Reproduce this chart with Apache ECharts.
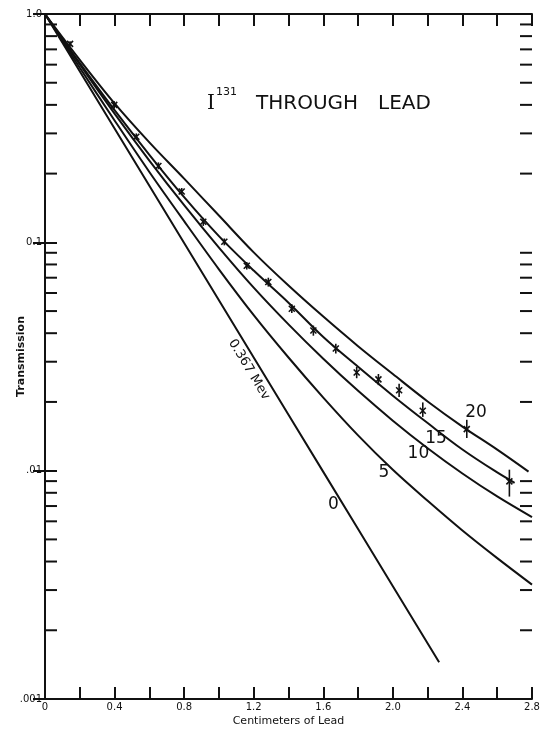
<!DOCTYPE html>
<html>
<head>
<meta charset="utf-8">
<script src="https://cdn.jsdelivr.net/npm/echarts@6/dist/echarts.min.js"></script>
<style>
  html, body { margin: 0; padding: 0; background: #fff; }
  #chart { width: 544px; height: 732px; }
</style>
</head>
<body>
<div id="chart"></div>
<script>
// Lead thickness (cm) at which the calculated curves are tabulated
const thickness = [0, 0.2, 0.4, 0.6, 0.8, 1.0, 1.2, 1.4, 1.6, 1.8, 2.0, 2.2, 2.4, 2.6, 2.8];

// Calculated transmission curves (labelled 5, 10, 15, 20)
const curve5  = [1, 0.5813, 0.3418, 0.2033, 0.1238, 0.0762, 0.0480, 0.0313, 0.0209, 0.01428, 0.01009, 0.00738, 0.00547, 0.00414, 0.00317];
const curve10 = [1, 0.6017, 0.3663, 0.2281, 0.1454, 0.0948, 0.0633, 0.0437, 0.0309, 0.02236, 0.01656, 0.01254, 0.00972, 0.00771, 0.00626];
const curve15X = [0, 0.2, 0.4, 0.6, 0.8, 1.0, 1.2, 1.4, 1.6, 1.8, 2.0, 2.2, 2.4, 2.6, 2.7];
const curve15 = [1, 0.609, 0.379, 0.2416, 0.1576, 0.1064, 0.0752, 0.0544, 0.0385, 0.0285, 0.0213, 0.01616, 0.01238, 0.00982, 0.00885];
const curve20X = [0, 0.2, 0.4, 0.6, 0.8, 1.0, 1.2, 1.4, 1.6, 1.8, 2.0, 2.2, 2.4, 2.6, 2.78];
const curve20 = [1, 0.63, 0.406, 0.274, 0.190, 0.131, 0.0904, 0.0647, 0.0473, 0.0351, 0.0265, 0.0201, 0.0156, 0.01236, 0.0099];

// Narrow-beam line for 0.367 Mev (curve 0)
const curve0X = [0, 0.4, 0.8, 1.2, 1.6, 2.0, 2.266];
const curve0  = [1, 0.315, 0.0993, 0.0313, 0.00988, 0.00312, 0.00145];

// Measured I-131 transmission with error limits
const measX  = [0.144, 0.398, 0.525, 0.652, 0.786, 0.910, 1.031, 1.160, 1.284, 1.419, 1.543, 1.672, 1.792, 1.917, 2.036, 2.172, 2.425, 2.670];
const measY  = [0.74, 0.40, 0.29, 0.216, 0.167, 0.123, 0.1006, 0.079, 0.067, 0.0512, 0.0411, 0.0343, 0.0269, 0.0251, 0.0225, 0.0183, 0.0152, 0.00898];
const measLo = [0.72, 0.385, 0.28, 0.209, 0.161, 0.118, 0.097, 0.076, 0.064, 0.049, 0.039, 0.0326, 0.0254, 0.0237, 0.021, 0.0172, 0.0139, 0.0077];
const measHi = [0.76, 0.415, 0.30, 0.224, 0.173, 0.128, 0.104, 0.082, 0.070, 0.0535, 0.0432, 0.036, 0.0285, 0.0265, 0.024, 0.0199, 0.0167, 0.0101];

// Axis tick labels
const xTickValues = [0, 0.4, 0.8, 1.2, 1.6, 2.0, 2.4, 2.8];
const xTickLabels = ['0', '0.4', '0.8', '1.2', '1.6', '2.0', '2.4', '2.8'];
const yTickLabels = ['.001', '.01', '0.1', '1.0'];   // decades 10^-3 .. 10^0
const yMinorTicks = [];
[0.001, 0.01, 0.1].forEach(d => { for (let k = 2; k <= 9; k++) yMinorTicks.push(+(d * k).toPrecision(3)); });

const zip = (xs, ys) => xs.map((x, i) => [x, ys[i]]);

const chart = echarts.init(document.getElementById('chart'), null, { renderer: 'canvas' });
const INK = '#111';
const FONT = 'DejaVu Sans';

const xAxisBase = {
  type: 'value', min: 0, max: 2.8, interval: 0.2,
  axisLine: { show: true, onZero: false, lineStyle: { color: INK, width: 2 } },
  axisTick: { show: true, inside: true, length: 12, lineStyle: { color: INK, width: 2 } },
  splitLine: { show: false }
};
const yAxisBase = {
  type: 'log', logBase: 10, min: 0.001, max: 1,
  axisLine: { show: true, lineStyle: { color: INK, width: 2 } },
  axisTick: { show: true, inside: true, length: 12, lineStyle: { color: INK, width: 2 } },
  splitLine: { show: false }
};

const lineStyle = { color: INK, width: 2 };
const curveSeries = (name, data) => ({
  name, type: 'line', data, smooth: 0.35, showSymbol: false, symbol: 'none',
  lineStyle, silent: true, animation: false, z: 3
});

chart.setOption({
  animation: false,
  backgroundColor: '#fff',
  grid: { left: 45, right: 12, top: 14, bottom: 30, containLabel: false },
  xAxis: [
    Object.assign({}, xAxisBase, {
      position: 'bottom',
      name: 'Centimeters of Lead', nameLocation: 'middle', nameGap: 17, nameMoveOverlap: false,
      nameTextStyle: { color: INK, fontFamily: FONT, fontSize: 11 },
      axisLabel: {
        color: INK, fontFamily: FONT, fontSize: 10, margin: 3,
        formatter: v => {
          const i = xTickValues.findIndex(t => Math.abs(t - v) < 1e-6);
          return i < 0 ? '' : xTickLabels[i];
        }
      }
    }),
    Object.assign({}, xAxisBase, { position: 'top', axisLabel: { show: false } })
  ],
  yAxis: [
    Object.assign({}, yAxisBase, {
      position: 'left',
      name: 'Transmission', nameLocation: 'middle', nameGap: 18, nameRotate: 90, nameMoveOverlap: false,
      nameTextStyle: { color: INK, fontFamily: FONT, fontSize: 11, fontWeight: 'bold' },
      axisLabel: {
        color: INK, fontFamily: FONT, fontSize: 10, margin: 3,
        formatter: v => {
          const e = Math.round(Math.log10(v)) + 3;
          return yTickLabels[e] || '';
        }
      }
    }),
    Object.assign({}, yAxisBase, { position: 'right', axisLabel: { show: false } })
  ],
  series: [
    curveSeries('0', zip(curve0X, curve0)),
    curveSeries('5', zip(thickness, curve5)),
    curveSeries('10', zip(thickness, curve10)),
    curveSeries('15', zip(curve15X, curve15)),
    curveSeries('20', zip(curve20X, curve20)),
    {
      // minor log ticks on both vertical axes
      type: 'custom', silent: true, clip: false, z: 4,
      data: yMinorTicks.map(v => [0, v]),
      encode: { x: 0, y: 1 },
      renderItem: (params, api) => {
        const v = api.value(1);
        const l = api.coord([0, v]);
        const r = api.coord([2.8, v]);
        const st = { stroke: INK, lineWidth: 2 };
        return { type: 'group', children: [
          { type: 'line', shape: { x1: l[0], y1: l[1], x2: l[0] + 12, y2: l[1] }, style: st },
          { type: 'line', shape: { x1: r[0] - 12, y1: r[1], x2: r[0], y2: r[1] }, style: st }
        ] };
      }
    },
    {
      // measured points: cross marker with vertical error bar
      type: 'custom', silent: true, z: 5,
      data: measX.map((x, i) => [x, measY[i], measLo[i], measHi[i]]),
      encode: { x: 0, y: [1, 2, 3] },
      renderItem: (params, api) => {
        const x = api.value(0);
        const p = api.coord([x, api.value(1)]);
        const lo = api.coord([x, api.value(2)]);
        const hi = api.coord([x, api.value(3)]);
        const s = 3;
        const st = { stroke: INK, lineWidth: 1.6 };
        return { type: 'group', children: [
          { type: 'line', shape: { x1: p[0], y1: hi[1], x2: p[0], y2: lo[1] }, style: st },
          { type: 'line', shape: { x1: p[0] - s, y1: p[1] - s, x2: p[0] + s, y2: p[1] + s }, style: st },
          { type: 'line', shape: { x1: p[0] - s, y1: p[1] + s, x2: p[0] + s, y2: p[1] - s }, style: st }
        ] };
      }
    }
  ]
});

// Curve labels placed in data coordinates
const curveLabels = [
  { text: '20', at: [2.478, 0.0180] },
  { text: '15', at: [2.248, 0.01377] },
  { text: '10', at: [2.147, 0.01193] },
  { text: '5',  at: [1.949, 0.00977] },
  { text: '0',  at: [1.658, 0.0071] }
];
const toPx = pt => chart.convertToPixel({ xAxisIndex: 0, yAxisIndex: 0 }, pt);
const graphics = curveLabels.map(c => {
  const p = toPx(c.at);
  return { type: 'text', x: p[0], y: p[1], z: 10,
    style: { text: c.text, fill: INK, font: '17px "DejaVu Sans"', align: 'center', verticalAlign: 'middle' } };
});

// Energy label written along the 0 line
const mevPos = toPx([1.173, 0.0277]);
graphics.push({ type: 'text', x: mevPos[0], y: mevPos[1], rotation: -58.8 * Math.PI / 180, z: 10,
  style: { text: '0.367 Mev', fill: INK, font: '13px "DejaVu Sans"', align: 'center', verticalAlign: 'middle' } });

// Title: I-131 through lead
graphics.push(
  { type: 'text', x: 207, y: 104, z: 10,
    style: { text: 'I', fill: INK, font: '20px "DejaVu Serif"', align: 'left', verticalAlign: 'middle' } },
  { type: 'text', x: 216, y: 92, z: 10,
    style: { text: '131', fill: INK, font: '11px "DejaVu Sans"', align: 'left', verticalAlign: 'middle' } },
  { type: 'text', x: 256, y: 104, z: 10,
    style: { text: 'THROUGH', fill: INK, font: '20px "DejaVu Sans"', align: 'left', verticalAlign: 'middle' } },
  { type: 'text', x: 378, y: 104, z: 10,
    style: { text: 'LEAD', fill: INK, font: '20px "DejaVu Sans"', align: 'left', verticalAlign: 'middle' } }
);
chart.setOption({ graphic: graphics });
</script>
</body>
</html>
